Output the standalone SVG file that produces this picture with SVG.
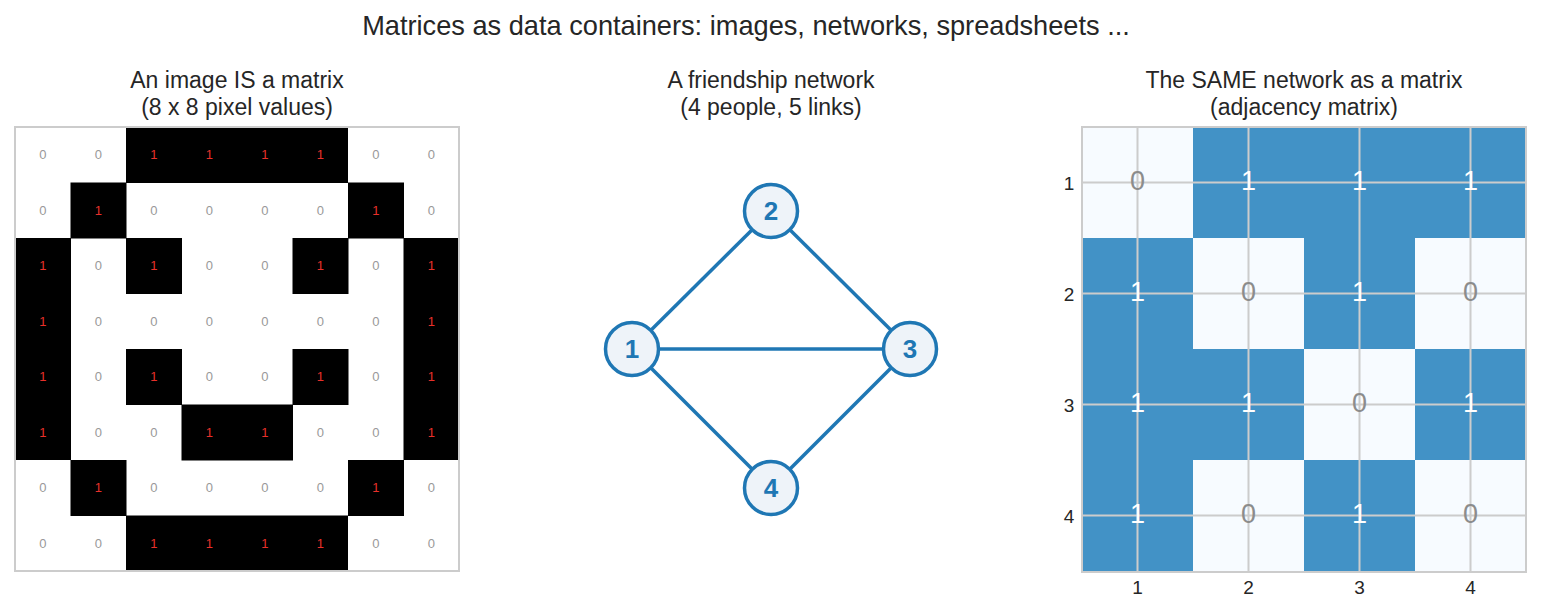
<svg xmlns="http://www.w3.org/2000/svg" width="1541" height="613" viewBox="0 0 1541 613">
<style>
text{font-family:"Liberation Sans",Arial,sans-serif;}
.title{font-size:27.2px;fill:#262626;text-anchor:middle;}
.sub{font-size:23px;fill:#262626;text-anchor:middle;}
.pz{font-size:13px;fill:#999999;text-anchor:middle;dominant-baseline:central;}
.po{font-size:13px;fill:#e8302a;text-anchor:middle;dominant-baseline:central;}
.blk{fill:#000000;}
.az{font-size:27px;fill:#8c8c8c;text-anchor:middle;dominant-baseline:central;}
.ao{font-size:27px;fill:#ffffff;text-anchor:middle;dominant-baseline:central;}
.hi{fill:#4292c6;}
.lo{fill:#f7fbff;}
.grid{stroke:#cccccc;stroke-width:2;fill:none;}
.tick{font-size:19px;fill:#262626;text-anchor:middle;dominant-baseline:central;}
.edge{stroke:#1f77b4;stroke-width:3.5;}
.node circle{fill:#eef3f9;stroke:#1f77b4;stroke-width:3.5;}
.node text{font-size:26px;font-weight:bold;fill:#1f77b4;text-anchor:middle;dominant-baseline:central;}
</style>
<rect width="1541" height="613" fill="#ffffff"/>
<text class="title" x="746" y="35">Matrices as data containers: images, networks, spreadsheets ...</text>

<g id="image-matrix">
<text class="sub" x="237" y="88">An image IS a matrix</text>
<text class="sub" x="237" y="115">(8 x 8 pixel values)</text>
<rect x="15" y="127" width="444" height="444" fill="#ffffff"/>
<rect class="blk" x="126" y="127" width="222" height="56"/>
<rect class="blk" x="70.5" y="182.5" width="56" height="56"/>
<rect class="blk" x="348" y="182.5" width="56" height="56"/>
<rect class="blk" x="15" y="238" width="56" height="222"/>
<rect class="blk" x="403.5" y="238" width="55.5" height="222"/>
<rect class="blk" x="126" y="238" width="56" height="56"/>
<rect class="blk" x="292.5" y="238" width="56" height="56"/>
<rect class="blk" x="126" y="349" width="56" height="56"/>
<rect class="blk" x="292.5" y="349" width="56" height="56"/>
<rect class="blk" x="181.5" y="404.5" width="111.5" height="56"/>
<rect class="blk" x="70.5" y="460" width="56" height="56"/>
<rect class="blk" x="348" y="460" width="56" height="56"/>
<rect class="blk" x="126" y="515.5" width="222" height="56"/>
<rect x="15" y="127" width="444" height="444" fill="none" stroke="#cccccc" stroke-width="2"/>
<g>
<text class="pz" x="42.75" y="154.75">0</text><text class="pz" x="98.25" y="154.75">0</text><text class="po" x="153.75" y="154.75">1</text><text class="po" x="209.25" y="154.75">1</text><text class="po" x="264.75" y="154.75">1</text><text class="po" x="320.25" y="154.75">1</text><text class="pz" x="375.75" y="154.75">0</text><text class="pz" x="431.25" y="154.75">0</text>
<text class="pz" x="42.75" y="210.25">0</text><text class="po" x="98.25" y="210.25">1</text><text class="pz" x="153.75" y="210.25">0</text><text class="pz" x="209.25" y="210.25">0</text><text class="pz" x="264.75" y="210.25">0</text><text class="pz" x="320.25" y="210.25">0</text><text class="po" x="375.75" y="210.25">1</text><text class="pz" x="431.25" y="210.25">0</text>
<text class="po" x="42.75" y="265.75">1</text><text class="pz" x="98.25" y="265.75">0</text><text class="po" x="153.75" y="265.75">1</text><text class="pz" x="209.25" y="265.75">0</text><text class="pz" x="264.75" y="265.75">0</text><text class="po" x="320.25" y="265.75">1</text><text class="pz" x="375.75" y="265.75">0</text><text class="po" x="431.25" y="265.75">1</text>
<text class="po" x="42.75" y="321.25">1</text><text class="pz" x="98.25" y="321.25">0</text><text class="pz" x="153.75" y="321.25">0</text><text class="pz" x="209.25" y="321.25">0</text><text class="pz" x="264.75" y="321.25">0</text><text class="pz" x="320.25" y="321.25">0</text><text class="pz" x="375.75" y="321.25">0</text><text class="po" x="431.25" y="321.25">1</text>
<text class="po" x="42.75" y="376.75">1</text><text class="pz" x="98.25" y="376.75">0</text><text class="po" x="153.75" y="376.75">1</text><text class="pz" x="209.25" y="376.75">0</text><text class="pz" x="264.75" y="376.75">0</text><text class="po" x="320.25" y="376.75">1</text><text class="pz" x="375.75" y="376.75">0</text><text class="po" x="431.25" y="376.75">1</text>
<text class="po" x="42.75" y="432.25">1</text><text class="pz" x="98.25" y="432.25">0</text><text class="pz" x="153.75" y="432.25">0</text><text class="po" x="209.25" y="432.25">1</text><text class="po" x="264.75" y="432.25">1</text><text class="pz" x="320.25" y="432.25">0</text><text class="pz" x="375.75" y="432.25">0</text><text class="po" x="431.25" y="432.25">1</text>
<text class="pz" x="42.75" y="487.75">0</text><text class="po" x="98.25" y="487.75">1</text><text class="pz" x="153.75" y="487.75">0</text><text class="pz" x="209.25" y="487.75">0</text><text class="pz" x="264.75" y="487.75">0</text><text class="pz" x="320.25" y="487.75">0</text><text class="po" x="375.75" y="487.75">1</text><text class="pz" x="431.25" y="487.75">0</text>
<text class="pz" x="42.75" y="543.25">0</text><text class="pz" x="98.25" y="543.25">0</text><text class="po" x="153.75" y="543.25">1</text><text class="po" x="209.25" y="543.25">1</text><text class="po" x="264.75" y="543.25">1</text><text class="po" x="320.25" y="543.25">1</text><text class="pz" x="375.75" y="543.25">0</text><text class="pz" x="431.25" y="543.25">0</text>
</g>
</g>

<g id="network-title">
<text class="sub" x="771" y="88">A friendship network</text>
<text class="sub" x="771" y="115">(4 people, 5 links)</text>
</g>
<g id="connectors">
<line class="edge" x1="632" y1="349" x2="771" y2="211"/>
<line class="edge" x1="632" y1="349" x2="910" y2="349"/>
<line class="edge" x1="632" y1="349" x2="771" y2="488"/>
<line class="edge" x1="771" y1="211" x2="910" y2="349"/>
<line class="edge" x1="910" y1="349" x2="771" y2="488"/>
</g>
<g id="node1" class="node"><circle cx="632" cy="349" r="26.5"/><text x="632" y="349">1</text></g>
<g id="node2" class="node"><circle cx="771" cy="211" r="26.5"/><text x="771" y="211">2</text></g>
<g id="node3" class="node"><circle cx="910" cy="349" r="26.5"/><text x="910" y="349">3</text></g>
<g id="node4" class="node"><circle cx="771" cy="488" r="26.5"/><text x="771" y="488">4</text></g>

<g id="adjacency-matrix">
<text class="sub" x="1304" y="88">The SAME network as a matrix</text>
<text class="sub" x="1304" y="115">(adjacency matrix)</text>
<rect class="lo" x="1082" y="127" width="111" height="111"/>
<rect class="hi" x="1193" y="127" width="333" height="111"/>
<rect class="hi" x="1082" y="238" width="111" height="111"/>
<rect class="lo" x="1193" y="238" width="111" height="111"/>
<rect class="hi" x="1304" y="238" width="111" height="111"/>
<rect class="lo" x="1415" y="238" width="111" height="111"/>
<rect class="hi" x="1082" y="349" width="222" height="111"/>
<rect class="lo" x="1304" y="349" width="111" height="111"/>
<rect class="hi" x="1415" y="349" width="111" height="111"/>
<rect class="hi" x="1082" y="460" width="111" height="112"/>
<rect class="lo" x="1193" y="460" width="111" height="112"/>
<rect class="hi" x="1304" y="460" width="111" height="112"/>
<rect class="lo" x="1415" y="460" width="111" height="112"/>
<path class="grid" d="M1137.5 127V572M1248.5 127V572M1359.5 127V572M1470.5 127V572M1082 182.5H1526M1082 293.5H1526M1082 404.5H1526M1082 515.5H1526"/>
<rect x="1082" y="127" width="444" height="445" fill="none" stroke="#cccccc" stroke-width="2"/>
<text class="az" x="1137.5" y="181">0</text><text class="ao" x="1248.5" y="181">1</text><text class="ao" x="1359.5" y="181">1</text><text class="ao" x="1470.5" y="181">1</text>
<text class="ao" x="1137.5" y="292">1</text><text class="az" x="1248.5" y="292">0</text><text class="ao" x="1359.5" y="292">1</text><text class="az" x="1470.5" y="292">0</text>
<text class="ao" x="1137.5" y="403">1</text><text class="ao" x="1248.5" y="403">1</text><text class="az" x="1359.5" y="403">0</text><text class="ao" x="1470.5" y="403">1</text>
<text class="ao" x="1137.5" y="514">1</text><text class="az" x="1248.5" y="514">0</text><text class="ao" x="1359.5" y="514">1</text><text class="az" x="1470.5" y="514">0</text>
<text class="tick" x="1069" y="183">1</text><text class="tick" x="1069" y="294">2</text><text class="tick" x="1069" y="405">3</text><text class="tick" x="1069" y="516">4</text>
<text class="tick" x="1137.5" y="587">1</text><text class="tick" x="1248.5" y="587">2</text><text class="tick" x="1359.5" y="587">3</text><text class="tick" x="1470.5" y="587">4</text>
</g>
</svg>
